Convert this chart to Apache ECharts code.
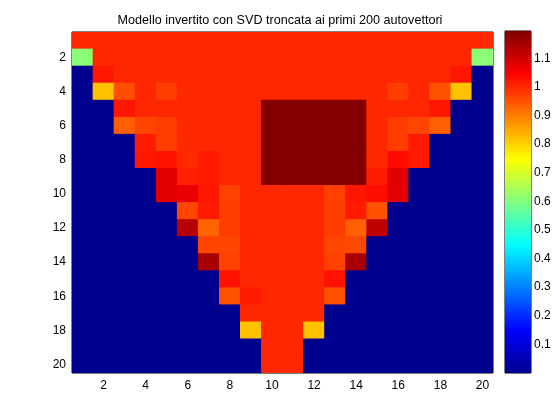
<!DOCTYPE html>
<html>
<head>
<meta charset="utf-8">
<script src="https://cdn.jsdelivr.net/npm/echarts@6/dist/echarts.min.js"></script>
<style>
html, body { margin: 0; padding: 0; background: #fff; }
#main { width: 560px; height: 420px; }
</style>
</head>
<body>
<div id="main"></div>
<script>
// column / row labels of the image (1..20)
var cols = ['1','2','3','4','5','6','7','8','9','10','11','12','13','14','15','16','17','18','19','20'];
var rows = ['1','2','3','4','5','6','7','8','9','10','11','12','13','14','15','16','17','18','19','20'];

// cell values, one array per image row (top to bottom)
var row01 = [1,1,1,1,1,1,1,1,1,1,1,1,1,1,1,1,1,1,1,1];
var row02 = [0.61,1,1,1,1,1,1,1,1,1,1,1,1,1,1,1,1,1,1,0.61];
var row03 = [0,1.02,1,1,1,1,1,1,1,1,1,1,1,1,1,1,1,1,1.02,0];
var row04 = [0,0.82,0.955,1,0.975,1,1,1,1,1,1,1,1,1,1,0.975,1,0.95,0.82,0];
var row05 = [0,0,1.02,1,1,1,1,1,1,1.19,1.19,1.19,1.19,1.19,1,1,1,1.02,0,0];
var row06 = [0,0,0.935,0.965,0.975,1,1,1,1,1.19,1.19,1.19,1.19,1.19,1,0.975,0.965,0.935,0,0];
var row07 = [0,0,0,1.015,0.975,1,1,1,1,1.19,1.19,1.19,1.19,1.19,1,0.975,1.015,0,0,0];
var row08 = [0,0,0,1.02,1.025,0.995,1.015,1,1,1.19,1.19,1.19,1.19,1.19,1,1.035,1.015,0,0,0];
var row09 = [0,0,0,0,1.08,1.01,1.015,1,1,1.19,1.19,1.19,1.19,1.19,1.015,1.08,0,0,0,0];
var row10 = [0,0,0,0,1.08,1.07,1.02,0.97,1,1,1,1,0.97,1.02,1.03,1.08,0,0,0,0];
var row11 = [0,0,0,0,0,0.965,1.015,0.975,1,1,1,1,0.975,1.015,0.95,0,0,0,0,0];
var row12 = [0,0,0,0,0,1.13,0.93,0.975,1,1,1,1,0.975,0.935,1.12,0,0,0,0,0];
var row13 = [0,0,0,0,0,0,0.965,0.965,1,1,1,1,0.965,0.96,0,0,0,0,0,0];
var row14 = [0,0,0,0,0,0,1.15,0.97,1,1,1,1,0.97,1.15,0,0,0,0,0,0];
var row15 = [0,0,0,0,0,0,0,1.025,1,1,1,1,1.025,0,0,0,0,0,0,0];
var row16 = [0,0,0,0,0,0,0,0.95,1.015,1,1,1,0.95,0,0,0,0,0,0,0];
var row17 = [0,0,0,0,0,0,0,0,1,1,1,1,0,0,0,0,0,0,0,0];
var row18 = [0,0,0,0,0,0,0,0,0.82,1,1,0.82,0,0,0,0,0,0,0,0];
var row19 = [0,0,0,0,0,0,0,0,0,1,1,0,0,0,0,0,0,0,0,0];
var row20 = [0,0,0,0,0,0,0,0,0,1,1,0,0,0,0,0,0,0,0,0];

// colour scale (jet)
var cMin = 0;
var cMax = 1.195;
var jetColors = ['#00008f','#0000ff','#0080ff','#00ffff','#80ff80','#ffff00','#ff8000','#ff0000','#800000'];

var matrix = [row01,row02,row03,row04,row05,row06,row07,row08,row09,row10,
              row11,row12,row13,row14,row15,row16,row17,row18,row19,row20];
var cells = [];
matrix.forEach(function (r, i) {
    r.forEach(function (v, j) { cells.push([j, i, v]); });
});

var evenIdx = function (index) { return index % 2 === 1; };
var txt = { color: '#000', fontFamily: 'Liberation Sans', fontSize: 12 };

var dom = document.getElementById('main');
var myChart = echarts.init(dom, null, { renderer: 'canvas' });

var stops = jetColors.map(function (c, k) {
    return { offset: k / (jetColors.length - 1), color: c };
});

var option = {
    animation: false,
    backgroundColor: '#fff',
    title: {
        text: 'Modello invertito con SVD troncata ai primi 200 autovettori',
        left: 'center',
        top: 9,
        textStyle: { color: '#000', fontFamily: 'Liberation Sans', fontSize: 12.6, fontWeight: 'normal' }
    },
    grid: [
        { left: 72, top: 32, width: 421, height: 341, show: true, borderColor: '#000', borderWidth: 1, backgroundColor: 'transparent' },
        { left: 505, top: 31, width: 26, height: 342, show: true, borderColor: '#000', borderWidth: 1, backgroundColor: 'transparent' }
    ],
    visualMap: {
        show: false,
        type: 'continuous',
        min: cMin,
        max: cMax,
        dimension: 2,
        seriesIndex: 0,
        inRange: { color: jetColors }
    },
    xAxis: [
        {
            gridIndex: 0, type: 'category', data: cols, position: 'bottom',
            axisLine: { show: false },
            axisTick: { show: true, inside: true, length: 5, alignWithLabel: true, interval: evenIdx, lineStyle: { color: '#000' } },
            axisLabel: Object.assign({ interval: evenIdx, margin: 7 }, txt),
            splitLine: { show: false }
        },
        {
            gridIndex: 0, type: 'category', data: cols, position: 'top',
            axisLine: { show: false },
            axisTick: { show: true, inside: true, length: 5, alignWithLabel: true, interval: evenIdx, lineStyle: { color: '#000' } },
            axisLabel: { show: false },
            splitLine: { show: false }
        },
        {
            gridIndex: 1, type: 'category', data: ['c'],
            show: false
        }
    ],
    yAxis: [
        {
            gridIndex: 0, type: 'category', data: rows, inverse: true, position: 'left',
            axisLine: { show: false },
            axisTick: { show: true, inside: true, length: 5, alignWithLabel: true, interval: evenIdx, lineStyle: { color: '#000' } },
            axisLabel: Object.assign({ interval: evenIdx, margin: 6 }, txt),
            splitLine: { show: false }
        },
        {
            gridIndex: 0, type: 'category', data: rows, inverse: true, position: 'right',
            axisLine: { show: false },
            axisTick: { show: true, inside: true, length: 5, alignWithLabel: true, interval: evenIdx, lineStyle: { color: '#000' } },
            axisLabel: { show: false },
            splitLine: { show: false }
        },
        {
            gridIndex: 1, type: 'value', min: cMin, max: cMax, interval: 0.1, position: 'right',
            axisLine: { show: false },
            axisTick: { show: true, inside: true, length: 3, lineStyle: { color: '#000' } },
            axisLabel: Object.assign({
                margin: 3, showMinLabel: false, showMaxLabel: false,
                formatter: function (v) {
                    var r = Math.round(v * 10) / 10;
                    if (r <= 0 || r > 1.15) return '';
                    return String(r);
                }
            }, txt),
            splitLine: { show: false }
        }
    ],
    series: [
        {
            name: 'modello',
            type: 'custom',
            xAxisIndex: 0,
            yAxisIndex: 0,
            data: cells,
            encode: { x: 0, y: 1 },
            clip: true,
            silent: true,
            z: 1,
            renderItem: function (params, api) {
                var c = api.coord([api.value(0), api.value(1)]);
                var s = api.size([1, 1]);
                return {
                    type: 'rect',
                    shape: { x: c[0] - s[0] / 2 - 0.4, y: c[1] - s[1] / 2 - 0.4, width: s[0] + 0.8, height: s[1] + 0.8 },
                    style: { fill: api.visual('color') }
                };
            }
        },
        {
            name: 'colorbar',
            type: 'bar',
            xAxisIndex: 2,
            yAxisIndex: 2,
            data: [cMax],
            barWidth: '100%',
            silent: true,
            itemStyle: { color: new echarts.graphic.LinearGradient(0, 1, 0, 0, stops) }
        }
    ]
};

myChart.setOption(option);
</script>
</body>
</html>
